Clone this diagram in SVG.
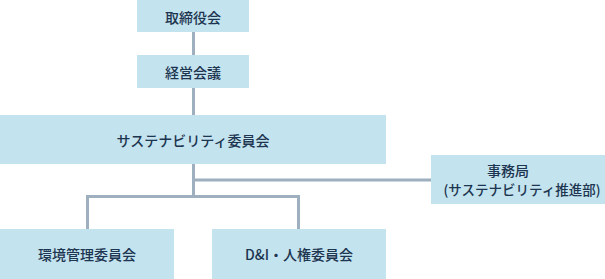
<svg xmlns="http://www.w3.org/2000/svg" width="605" height="279" viewBox="0 0 605 279">
<style>
.box{fill:#c3e3ee;}
.t{font-family:"Noto Sans CJK JP","Noto Sans",sans-serif;font-size:14px;font-weight:500;fill:#1d3550;text-anchor:middle;dominant-baseline:central;}
.s{font-size:13.5px;}
.c{fill:none;stroke:#9eb0c0;stroke-width:3;}
</style>
<rect width="605" height="279" fill="#ffffff"/>
<g id="connectors">
<line class="c" x1="193.5" y1="32" x2="193.5" y2="55"/>
<line class="c" x1="193.5" y1="88" x2="193.5" y2="115"/>
<line class="c" x1="193.5" y1="164" x2="193.5" y2="196.5"/>
<line class="c" x1="193.5" y1="180" x2="431" y2="180"/>
<polyline class="c" points="87.5,229 87.5,196.5 298.5,196.5 298.5,229"/>
</g>
<g id="board"><rect class="box" x="137" y="0" width="112" height="32"/><text class="t" x="193" y="17">取締役会</text></g>
<g id="management"><rect class="box" x="137" y="55" width="112" height="33"/><text class="t" x="193" y="72">経営会議</text></g>
<g id="sustainability"><rect class="box" x="0" y="115" width="386" height="49"/><text class="t" x="193" y="140">サステナビリティ委員会</text></g>
<g id="secretariat"><rect class="box" x="431" y="155" width="174" height="49"/><text class="t"><tspan x="508" y="169.5">事務局</tspan><tspan class="s" x="522" y="189">(サステナビリティ推進部)</tspan></text></g>
<g id="environment"><rect class="box" x="0" y="229" width="174" height="50"/><text class="t" x="87" y="254">環境管理委員会</text></g>
<g id="di"><rect class="box" x="212" y="229" width="174" height="50"/><text class="t" x="299" y="254">D&amp;I・人権委員会</text></g>
</svg>
